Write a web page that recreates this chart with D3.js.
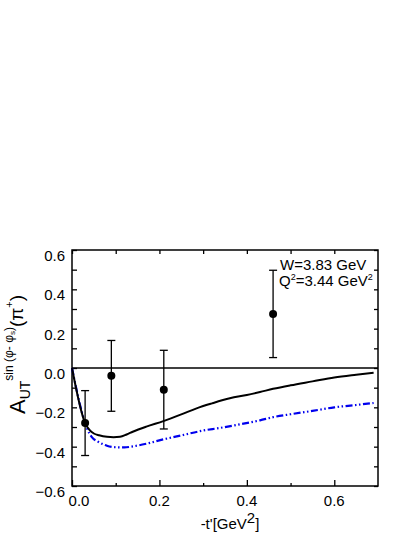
<!DOCTYPE html>
<html>
<head>
<meta charset="utf-8">
<script src="https://cdn.jsdelivr.net/npm/d3@7"></script>
<style>
  body { margin: 0; background: #fff; }
  text { font-family: "Liberation Sans", Arial, sans-serif; fill: #000; }
</style>
</head>
<body>
<div id="chart"></div>
<script>
// measured points (-t', A_UT, error)
const dataX = [0.03, 0.09, 0.21, 0.46];
const dataY = [-0.28, -0.04, -0.11, 0.275];
const dataErr = [0.165, 0.18, 0.2, 0.222];

// model curves
const solidX = [0, 0.03, 0.04, 0.05, 0.062, 0.08, 0.095, 0.11, 0.125, 0.139, 0.17, 0.209, 0.25, 0.285, 0.32, 0.361, 0.4, 0.43, 0.46, 0.5, 0.55, 0.6, 0.65, 0.69];
const solidY = [0, -0.28, -0.315, -0.333, -0.342, -0.35, -0.352, -0.35, -0.338, -0.324, -0.298, -0.27, -0.236, -0.205, -0.18, -0.154, -0.137, -0.122, -0.106, -0.088, -0.068, -0.048, -0.034, -0.024];
const dashX = [0, 0.03, 0.035, 0.045, 0.06, 0.08, 0.1, 0.12, 0.135, 0.17, 0.209, 0.25, 0.3, 0.338, 0.38, 0.43, 0.46, 0.5, 0.55, 0.6, 0.65, 0.69];
const dashY = [0, -0.28, -0.31, -0.35, -0.375, -0.395, -0.403, -0.404, -0.4, -0.385, -0.363, -0.343, -0.318, -0.305, -0.288, -0.266, -0.25, -0.235, -0.218, -0.2, -0.188, -0.178];

const xTicks = [0, 0.2, 0.4, 0.6];
const xMinor = [0.1, 0.3, 0.5];
const yTicks = [-0.6, -0.4, -0.2, 0, 0.2, 0.4, 0.6];
const yMinor = [-0.5, -0.3, -0.1, 0.1, 0.3, 0.5];

const width = 415, height = 537;
const margin = {left: 72, right: 37, top: 250, bottom: 51};

const svg = d3.select("#chart").append("svg")
  .attr("width", width)
  .attr("height", height);

const x = d3.scaleLinear().domain([0, 0.7]).range([margin.left, width - margin.right]);
const y = d3.scaleLinear().domain([-0.6, 0.6]).range([height - margin.bottom, margin.top]);

// inward ticks on all four sides
const fmt = d3.format(".1f");
svg.append("g")
  .attr("transform", `translate(0,${y(-0.6)})`)
  .call(d3.axisBottom(x).tickValues(xTicks).tickSize(-6).tickFormat(""))
  .call(g => g.select(".domain").remove());
svg.append("g")
  .attr("transform", `translate(0,${y(-0.6)})`)
  .call(d3.axisBottom(x).tickValues(xMinor).tickSize(-3).tickFormat(""))
  .call(g => g.select(".domain").remove());
svg.append("g")
  .attr("transform", `translate(0,${y(0.6)})`)
  .call(d3.axisTop(x).tickValues(xTicks.concat(xMinor)).tickSize(-4).tickFormat(""))
  .call(g => g.select(".domain").remove());
svg.append("g")
  .attr("transform", `translate(${x(0)},0)`)
  .call(d3.axisLeft(y).tickValues(yTicks.concat(yMinor)).tickSize(-5).tickFormat(""))
  .call(g => g.select(".domain").remove());
svg.append("g")
  .attr("transform", `translate(${x(0.7)},0)`)
  .call(d3.axisRight(y).tickValues(yTicks.concat(yMinor)).tickSize(-4).tickFormat(""))
  .call(g => g.select(".domain").remove());
svg.selectAll(".tick line").attr("stroke", "#000").attr("stroke-width", 1.3);

// tick labels
svg.append("g").selectAll("text")
  .data(xTicks).enter().append("text")
  .attr("x", d => x(d) + (d === 0 ? 7 : 0))
  .attr("y", y(-0.6) + 20)
  .attr("text-anchor", "middle")
  .style("font-size", "15px")
  .text(fmt);
svg.append("g").selectAll("text")
  .data(yTicks).enter().append("text")
  .attr("x", x(0) - 7)
  .attr("y", d => y(d) + 11)
  .attr("text-anchor", "end")
  .style("font-size", "15px")
  .text(fmt);

// frame
svg.append("rect")
  .attr("x", x(0)).attr("y", y(0.6))
  .attr("width", x(0.7) - x(0)).attr("height", y(-0.6) - y(0.6))
  .attr("fill", "none").attr("stroke", "#000").attr("stroke-width", 1.5);

// zero line
svg.append("line")
  .attr("x1", x(0)).attr("x2", x(0.7))
  .attr("y1", y(0)).attr("y2", y(0))
  .attr("stroke", "#000").attr("stroke-width", 1.5);

const line = d3.line().x(d => x(d[0])).y(d => y(d[1])).curve(d3.curveMonotoneX);

svg.append("path")
  .attr("d", line(dashX.map((v, i) => [v, dashY[i]])))
  .attr("fill", "none").attr("stroke", "#0000ee").attr("stroke-width", 2.2)
  .attr("stroke-dasharray", "7,2.5,1.5,2.5,1.5,2.5");

svg.append("path")
  .attr("d", line(solidX.map((v, i) => [v, solidY[i]])))
  .attr("fill", "none").attr("stroke", "#000").attr("stroke-width", 2);

// data points with error bars
const pts = dataX.map((v, i) => ({x: v, y: dataY[i], e: dataErr[i]}));
const pg = svg.append("g").selectAll("g").data(pts).enter().append("g");
pg.append("line")
  .attr("x1", d => x(d.x)).attr("x2", d => x(d.x))
  .attr("y1", d => y(d.y + d.e)).attr("y2", d => y(d.y - d.e))
  .attr("stroke", "#000").attr("stroke-width", 1.3);
[1, -1].forEach(s => {
  pg.append("line")
    .attr("x1", d => x(d.x) - 4).attr("x2", d => x(d.x) + 4)
    .attr("y1", d => y(d.y + s * d.e)).attr("y2", d => y(d.y + s * d.e))
    .attr("stroke", "#000").attr("stroke-width", 1.3);
});
pg.append("circle")
  .attr("cx", d => x(d.x)).attr("cy", d => y(d.y))
  .attr("r", 4).attr("fill", "#000");

// annotation
const ann = svg.append("text").attr("x", 280).attr("y", 270).style("font-size", "15px");
ann.text("W=3.83 GeV");
const ann2 = svg.append("text").attr("x", 279).attr("y", 286).style("font-size", "15px");
ann2.append("tspan").text("Q");
ann2.append("tspan").attr("dy", -6).style("font-size", "9px").text("2");
ann2.append("tspan").attr("dy", 6).text("=3.44 GeV");
ann2.append("tspan").attr("dy", -6).style("font-size", "9px").text("2");

// x title
const xt = svg.append("text").attr("x", 230).attr("y", 529)
  .attr("text-anchor", "middle").style("font-size", "15px");
xt.append("tspan").text("-t'[GeV");
xt.append("tspan").attr("dy", -6).style("font-size", "15px").text("2");
xt.append("tspan").attr("dy", 6).text("]");

// y title
const yt = svg.append("text")
  .attr("transform", "translate(25,414) rotate(-90)")
  .attr("text-anchor", "start");
yt.append("tspan").style("font-size", "22px").text("A");
yt.append("tspan").attr("dy", 5).style("font-size", "14px").text("UT");
yt.append("tspan").attr("dy", -17).style("font-size", "12px").text("sin (\u03c6- \u03c6");
yt.append("tspan").attr("dy", 2).style("font-size", "8px").text("s");
yt.append("tspan").attr("dy", -2).style("font-size", "12px").text(")");
yt.append("tspan").attr("dy", 10).style("font-size", "19px").text("(\u03c0");
yt.append("tspan").attr("dy", -10).style("font-size", "11px").text("+");
yt.append("tspan").attr("dy", 10).style("font-size", "19px").text(")");
</script>
</body>
</html>
